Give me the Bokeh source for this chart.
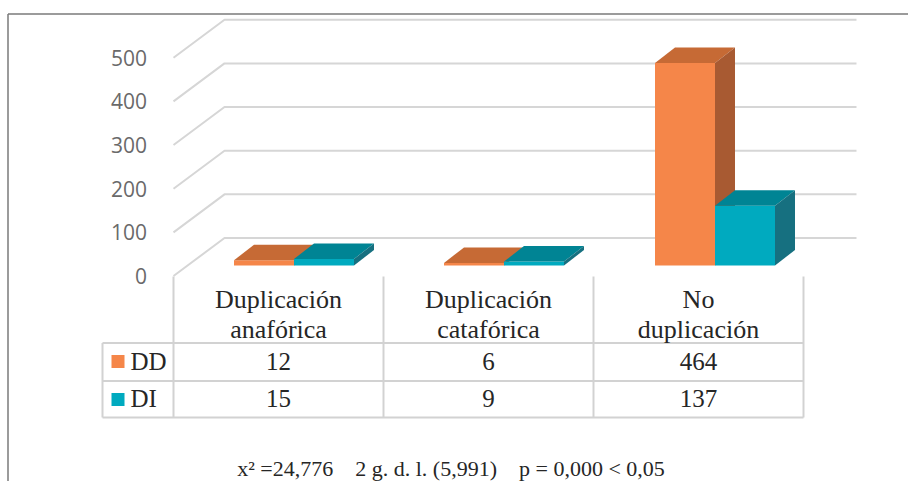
from bokeh.plotting import figure
from bokeh.embed import file_html
from bokeh.resources import INLINE
from bokeh.models import Range1d, FixedTicker, LinearAxis
from bokeh.core.properties import value

categories = [["Duplicación", "anafórica"], ["Duplicación", "catafórica"], ["No", "duplicación"]]
series_names = ["DD", "DI"]
dd_values = [12, 6, 464]
di_values = [15, 9, 137]
y_ticks = [0, 100, 200, 300, 400, 500]
caption = "x² =24,776\u00a0\u00a0\u00a0\u00a02 g. d. l. (5,991)\u00a0\u00a0\u00a0\u00a0p = 0,000 < 0,05"

# ---- layout (page pixels of the reference) ----
W, H = 908, 481
PX0, PY0 = 0, 0
CAT_W = 210.0          # pixels per category
COL0 = 173.0           # table first column edge
UNIT = 0.4365          # pixels per value unit
BASE = 265.0           # page y of value 0 at the bars' front
AXIS_ZERO = 275.5      # page y of value 0 on the axis plane
WALL_DX, WALL_DY = 51, 38
BAR_W = 60 / CAT_W
BAR_OFF = [60.5 / CAT_W, 270.5 / CAT_W, 481.5 / CAT_W]
DEPTH_DX, DEPTH_DY = 20, 15.5


def ux(px):
    return (px - COL0) / CAT_W


def uy(py):
    return (BASE - py) / UNIT


def axis_v(py_offset):
    return py_offset / UNIT


p = figure(width=W, height=H, output_backend="svg", toolbar_location=None,
           x_range=Range1d(ux(PX0), ux(PX0 + W)),
           y_range=Range1d(uy(PY0 + H), uy(PY0)),
           min_border=0, outline_line_color=None,
           x_axis_location=None, y_axis_location=None)
p.grid.visible = False

# real value axis on the front plane
shift = (AXIS_ZERO - BASE) / UNIT
p.extra_y_ranges = {"front": Range1d(uy(PY0 + H) + shift, uy(PY0) + shift)}
ax = LinearAxis(y_range_name="front", fixed_location=ux(160.5),
                ticker=FixedTicker(ticks=y_ticks),
                axis_line_color=None, major_tick_line_color=None, minor_tick_line_color=None,
                major_label_text_font="Open Sans", major_label_text_font_size="21px",
                major_label_text_color="#6a6a6a", major_label_standoff=8)
p.add_layout(ax, "left")

# chart border: left and top only
p.multi_line([[ux(7.5), ux(7.5)], [ux(7.5), ux(PX0 + W)]],
             [[uy(PY0 + H), uy(13.5)], [uy(13.5), uy(13.5)]],
             line_color="#7a7a7a", line_width=1.5)

# gridlines: front-left → back wall → right end
gx, gy = [], []
for t in y_ticks:
    front = uy(AXIS_ZERO) + t
    back = front + axis_v(WALL_DY)
    gx.append([ux(COL0), ux(COL0 + WALL_DX), ux(856)])
    gy.append([front, back, back])
p.multi_line(gx, gy, line_color="#d6d6d6", line_width=2)

# 3D bars
colors = {"DD": ("#F58649", "#C66A35", "#A85A32"), "DI": ("#00AABF", "#008494", "#167080")}
for s, vals, shift_i in (("DD", dd_values, 0), ("DI", di_values, 1)):
    front_c, top_c, side_c = colors[s]
    for i, v in enumerate(vals):
        x0 = BAR_OFF[i] + shift_i * BAR_W
        x1 = x0 + BAR_W
        dx = DEPTH_DX / CAT_W
        dy = DEPTH_DY / UNIT
        p.quad(left=[x0], right=[x1], bottom=[0], top=[v], fill_color=front_c, line_color=None)
        p.patch([x0, x0 + dx, x1 + dx, x1], [v, v + dy, v + dy, v], fill_color=top_c, line_color=None)
        p.patch([x1, x1 + dx, x1 + dx, x1], [0, dy, v + dy, v], fill_color=side_c, line_color=None)

# data table
LINE = "#d2d2d2"
TABLE_L, ROWS = 102, [342.5, 380.5, 417]
COLS = [COL0 + i * CAT_W for i in range(4)]
xs = [[ux(TABLE_L), ux(COLS[-1])] for _ in ROWS]
ys = [[uy(r), uy(r)] for r in ROWS]
xs += [[ux(c), ux(c)] for c in COLS] + [[ux(TABLE_L), ux(TABLE_L)]]
ys += [[uy(276), uy(417)] for _ in COLS] + [[uy(342.5), uy(417)]]
p.multi_line(xs, ys, line_color=LINE, line_width=2)

serif = value("Liberation Serif")
TXT = "#262626"
for i, (a, b) in enumerate(categories):
    cx = i + 0.5
    p.text([cx], [uy(299)], text=[a], text_font=serif, text_font_size="26px", text_color=TXT,
           text_align="center", text_baseline="middle")
    p.text([cx], [uy(328.5)], text=[b], text_font=serif, text_font_size="26px", text_color=TXT,
           text_align="center", text_baseline="middle")
    p.text([cx], [uy(361)], text=[str(dd_values[i])], text_font=serif, text_font_size="25px",
           text_color=TXT, text_align="center", text_baseline="middle")
    p.text([cx], [uy(398)], text=[str(di_values[i])], text_font=serif, text_font_size="25px",
           text_color=TXT, text_align="center", text_baseline="middle")

for name, py, lpy in zip(series_names, [361, 398], [361, 399]):
    p.text([ux(130)], [uy(py)], text=[name], text_font=serif, text_font_size="25px", text_color=TXT,
           text_align="left", text_baseline="middle")
    p.quad(left=[ux(111)], right=[ux(124)], bottom=[uy(lpy + 6.5)], top=[uy(lpy - 6.5)],
           fill_color=colors[name][0], line_color=None)

p.text([ux(450.5)], [uy(467.5)], text=[caption], text_font=serif, text_font_size="22px", text_color=TXT,
       text_align="center", text_baseline="middle")

open("out.html", "w").write(file_html(p, INLINE))
